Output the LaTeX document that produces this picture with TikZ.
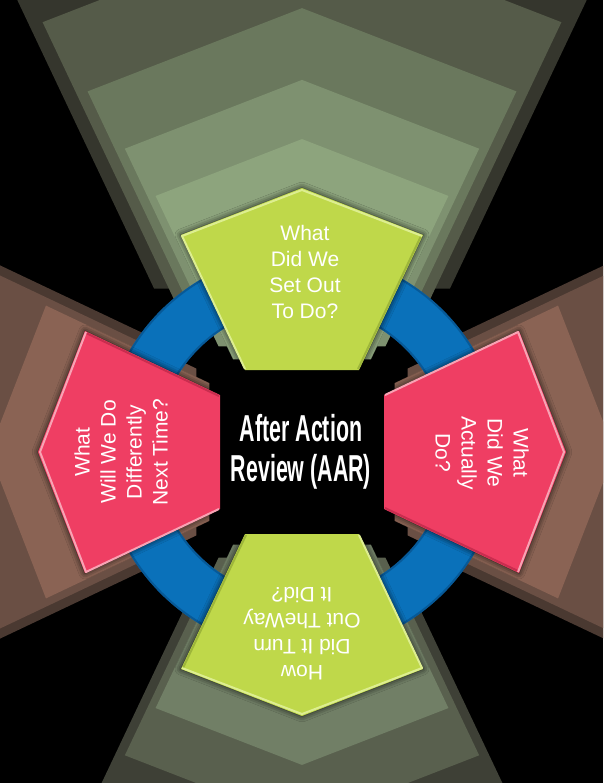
\documentclass[tikz,border=0pt]{standalone}
\usepackage{fontspec}
\usepackage{graphicx}
\setmainfont{Liberation Sans}
\usetikzlibrary{shadows.blur}

\definecolor{tO}{HTML}{35362D}
\definecolor{tLb}{HTML}{555B49}
\definecolor{tLc}{HTML}{6A785D}
\definecolor{tLd}{HTML}{7E9170}
\definecolor{tLe}{HTML}{8DA47D}
\definecolor{bLc}{HTML}{3E4036}
\definecolor{bLd}{HTML}{59604E}
\definecolor{bLe}{HTML}{717F66}
\definecolor{brLc}{HTML}{4A3931}
\definecolor{brLd}{HTML}{6A4F44}
\definecolor{brLe}{HTML}{8A6354}
\definecolor{pgreen}{HTML}{BFD84A}
\definecolor{pgreenhi}{HTML}{DDEE90}
\definecolor{pgreenlo}{HTML}{9EB63A}
\definecolor{pred}{HTML}{EF3E63}
\definecolor{predhi}{HTML}{F8A3B4}
\definecolor{predlo}{HTML}{C92D4F}
\definecolor{ringblue}{HTML}{0A71BA}
\definecolor{ringdark}{HTML}{06508A}

% funnel layer: angle, scale, colour
\newcommand\funlayer[3]{%
  \begin{scope}[shift={(302,452)},rotate=#1]
    \begin{scope}[shift={(0,-31)},scale=#2]
      \fill[#3] (0,-233) -- (121,-186) -- (57,-51) -- (-57,-51) -- (-121,-186) -- cycle;
    \end{scope}
  \end{scope}}

% pentagon: angle, fill, highlight, lowlight
\newcommand\pentagon[4]{%
  \begin{scope}[shift={(302,452)},rotate=#1]
    \fill[#2, blur shadow={shadow xshift=0pt,shadow yshift=0pt,shadow blur radius=6pt,shadow opacity=85}]
      (0,-264) -- (121,-217) -- (57,-82) -- (-57,-82) -- (-121,-217) -- cycle;
    \draw[#4, line width=2pt, line join=round] (119,-216) -- (56,-83);
    \draw[#3, line width=2pt, line join=round] (-57,-83) -- (-120,-216) -- (0,-262) -- (120,-216);
  \end{scope}}

\tikzset{
  pentxt/.style={text=white, font=\fontsize{21}{26}\selectfont, align=center, inner sep=0pt},
  centertxt/.style={text=white, font=\bfseries\fontsize{37.5}{40}\selectfont, align=center, inner sep=0pt}
}

\begin{document}
\begin{tikzpicture}[x=1pt,y=-1pt]
  \useasboundingbox (0,0) rectangle (603,783);
  \clip (0,0) rectangle (603,783);
  \fill[black] (0,0) rectangle (603,783);

  % top funnel
  \funlayer{0}{2.594}{tO}
  \funlayer{0}{2.144}{tLb}
  \funlayer{0}{1.772}{tLc}
  \funlayer{0}{1.464}{tLd}
  \funlayer{0}{1.21}{tLe}
  % bottom funnel
  \funlayer{180}{1.772}{bLc}
  \funlayer{180}{1.464}{bLd}
  \funlayer{180}{1.21}{bLe}
  % left funnel
  \funlayer{90}{1.772}{brLc}
  \funlayer{90}{1.464}{brLd}
  \funlayer{90}{1.21}{brLe}
  % right funnel
  \funlayer{-90}{1.772}{brLc}
  \funlayer{-90}{1.464}{brLd}
  \funlayer{-90}{1.21}{brLe}

  % ring
  \draw[ringblue, line width=54pt] (302,452) circle [radius=173pt];
  \draw[ringdark, line width=2pt, opacity=0.7] (302,452) circle [radius=147pt];
  \draw[ringdark, line width=2pt, opacity=0.7] (302,452) circle [radius=199pt];

  % pentagons
  \pentagon{0}{pgreen}{pgreenhi}{pgreenlo}
  \pentagon{180}{pgreen}{pgreenhi}{pgreenlo}
  \pentagon{90}{pred}{predhi}{predlo}
  \pentagon{-90}{pred}{predhi}{predlo}

  % texts
  \node[pentxt] (ttop) at (305,272) {What\\Did We\\Set Out\\To Do?};
  \node[pentxt, rotate=180] (tbot) at (302,634) {How\\Did It Turn\\Out TheWay\\It Did?};
  \node[pentxt, rotate=90] (tleft) at (121,452) {What\\Will We Do\\Differently\\Next Time?};
  \node[pentxt, rotate=-90] (tright) at (482,453) {What\\Did We\\Actually\\Do?};
  \node[centertxt] (tcenter) at (301,452) {\scalebox{0.57}[1]{After Action}\\\scalebox{0.57}[1]{Review (AAR)}};
\end{tikzpicture}
\end{document}
